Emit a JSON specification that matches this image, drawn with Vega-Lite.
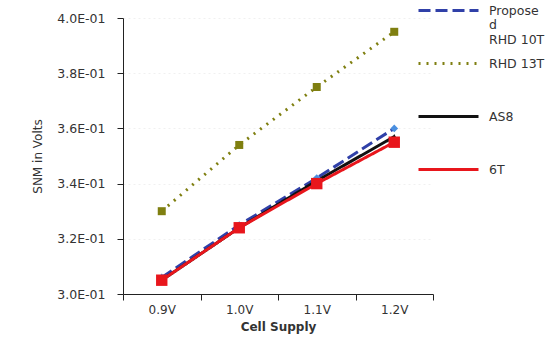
{
  "$schema": "https://vega.github.io/schema/vega-lite/v6.json",
  "width": 310,
  "height": 276,
  "autosize": {"type": "none"},
  "padding": {"left": 123, "top": 18, "right": 122, "bottom": 48},
  "background": "white",
  "config": {"view": {"stroke": null}, "font": "DejaVu Sans"},
  "data": {"values": [
    {"supply": "0.9V", "series": "Proposed RHD 10T", "snm": 0.306},
    {"supply": "1.0V", "series": "Proposed RHD 10T", "snm": 0.325},
    {"supply": "1.1V", "series": "Proposed RHD 10T", "snm": 0.342},
    {"supply": "1.2V", "series": "Proposed RHD 10T", "snm": 0.360},
    {"supply": "0.9V", "series": "RHD 13T", "snm": 0.330},
    {"supply": "1.0V", "series": "RHD 13T", "snm": 0.354},
    {"supply": "1.1V", "series": "RHD 13T", "snm": 0.375},
    {"supply": "1.2V", "series": "RHD 13T", "snm": 0.395},
    {"supply": "0.9V", "series": "AS8", "snm": 0.305},
    {"supply": "1.0V", "series": "AS8", "snm": 0.324},
    {"supply": "1.1V", "series": "AS8", "snm": 0.341},
    {"supply": "1.2V", "series": "AS8", "snm": 0.357},
    {"supply": "0.9V", "series": "6T", "snm": 0.305},
    {"supply": "1.0V", "series": "6T", "snm": 0.324},
    {"supply": "1.1V", "series": "6T", "snm": 0.340},
    {"supply": "1.2V", "series": "6T", "snm": 0.355}
  ]},
  "encoding": {
    "x": {"field": "supply", "type": "nominal", "sort": ["0.9V", "1.0V", "1.1V", "1.2V"],
      "scale": {"type": "band", "paddingInner": 0, "paddingOuter": 0},
      "axis": {"title": "Cell Supply", "labelAngle": 0, "tickBand": "extent", "domainColor": "#222", "tickColor": "#222", "tickSize": 6,
        "labelFontSize": 12, "labelColor": "#333", "labelPadding": 4, "titleFontSize": 12, "titleFontWeight": "bold", "titleColor": "#333", "titlePadding": 6, "grid": false}},
    "y": {"field": "snm", "type": "quantitative",
      "scale": {"domain": [0.3, 0.4], "nice": false, "zero": false},
      "axis": {"title": "SNM in Volts", "values": [0.3, 0.32, 0.34, 0.36, 0.38, 0.4],
        "labelExpr": "replace(upper(format(datum.value, '.1e')), 'E-', 'E-0')",
        "domainColor": "#222", "tickColor": "#222", "tickSize": 6, "labelFontSize": 12.5, "labelColor": "#333", "labelPadding": 12,
        "titleFontSize": 12, "titleFontWeight": "normal", "titleColor": "#333", "titlePadding": 12,
        "grid": true, "gridColor": "#f0f0f0", "gridDash": [2, 3]}}
  },
  "layer": [
    {
      "mark": {"type": "line", "strokeWidth": 3},
      "encoding": {
        "color": {"field": "series", "type": "nominal",
          "scale": {"domain": ["Proposed RHD 10T", "RHD 13T", "AS8", "6T"], "range": ["#3040a8", "#7f7f10", "#111111", "#e8161c"]},
          "legend": {"title": null, "orient": "none", "legendX": 294, "legendY": -25, "symbolType": "M-1,0.6H5", "symbolSize": 400, "symbolStrokeWidth": 3,
            "labelFontSize": 12.5, "labelColor": "#333", "rowPadding": 0, "labelOffset": 49, "labelBaseline": "top",
            "labelExpr": "datum.label == 'Proposed RHD 10T' ? ['Propose', 'd', 'RHD 10T'] : [datum.label, '', '']"}},
        "strokeDash": {"field": "series", "type": "nominal",
          "scale": {"domain": ["Proposed RHD 10T", "RHD 13T", "AS8", "6T"], "range": [[12, 5], [2, 6], [1, 0], [1, 0]]},
          "legend": {"title": null, "orient": "none", "legendX": 294, "legendY": -25, "symbolType": "M-1,0.6H5", "symbolSize": 400, "symbolStrokeWidth": 3,
            "labelFontSize": 12.5, "labelColor": "#333", "rowPadding": 0, "labelOffset": 49, "labelBaseline": "top",
            "labelExpr": "datum.label == 'Proposed RHD 10T' ? ['Propose', 'd', 'RHD 10T'] : [datum.label, '', '']"}}
      }
    },
    {
      "transform": [{"filter": "datum.series == 'Proposed RHD 10T'"}],
      "mark": {"type": "point", "filled": true, "opacity": 1, "shape": "diamond", "size": 60, "color": "#4a8fe0"}
    },
    {
      "transform": [{"filter": "datum.series == 'RHD 13T'"}],
      "mark": {"type": "point", "filled": true, "opacity": 1, "shape": "square", "size": 64, "color": "#7f7f10"}
    },
    {
      "transform": [{"filter": "datum.series == 'AS8'"}],
      "mark": {"type": "point", "filled": true, "opacity": 1, "shape": "triangle-up", "size": 40, "color": "#111111"}
    },
    {
      "transform": [{"filter": "datum.series == '6T'"}],
      "mark": {"type": "point", "filled": true, "opacity": 1, "shape": "square", "size": 130, "color": "#e8161c"}
    }
  ]
}
